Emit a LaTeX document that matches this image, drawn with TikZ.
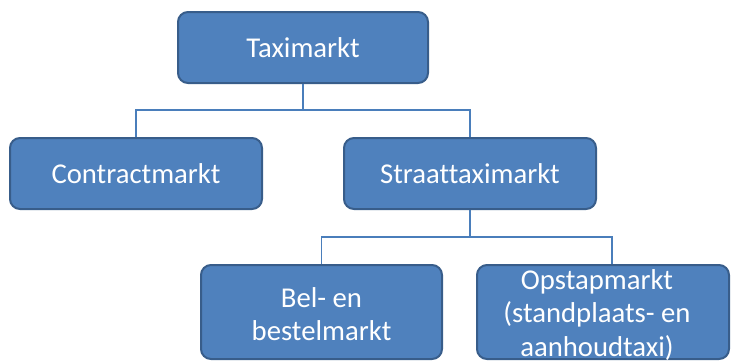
\documentclass[tikz,border=0pt]{standalone}
\usepackage{fontspec}
\setmainfont{Carlito}[Ligatures=NoCommon]
\definecolor{boxfill}{HTML}{4F81BD}
\definecolor{boxline}{HTML}{385D8A}
\definecolor{connline}{HTML}{4A7EBB}
\begin{document}
\begin{tikzpicture}[x=1pt,y=-1pt,
  box/.style={draw=boxline, fill=boxfill, line width=2pt, rounded corners=10pt,
    inner sep=0pt, text=white, font=\fontsize{28.7}{33.5}\selectfont, align=center},
  lbl/.style={inner sep=0pt, text=white, font=\fontsize{28.7}{33.5}\selectfont, align=center},
  conn/.style={draw=connline, line width=1.4pt}]
\useasboundingbox (0,0) rectangle (733,362);
\node[box, minimum width=250, minimum height=71] (taxi) at (303,47.5) {Taximarkt};
\node[box, minimum width=252, minimum height=71] (contract) at (136,173.5) {Contractmarkt};
\node[box, minimum width=252, minimum height=71] (straat) at (470,173.5) {Straattaximarkt};
\node[box, minimum width=241, minimum height=94] (bel) at (321.5,312) {};
\node[box, minimum width=252, minimum height=94] (opstap) at (603,312) {};
\node[lbl] (beltext) at (321.5,314) {Bel- en\\bestelmarkt};
\node[lbl] (opstaptext) at (597,315) {Opstapmarkt\\(standplaats- en\\aanhoudtaxi)};
\draw[conn] (taxi.south) -- ++(0,26) -| (contract.north);
\draw[conn] (taxi.south) -- ++(0,26) -| (straat.north);
\draw[conn] (straat.south) -- ++(0,27) -| (bel.north);
\draw[conn] (straat.south) -- ++(0,27) -| ([xshift=9pt]opstap.north);
\end{tikzpicture}
\end{document}
